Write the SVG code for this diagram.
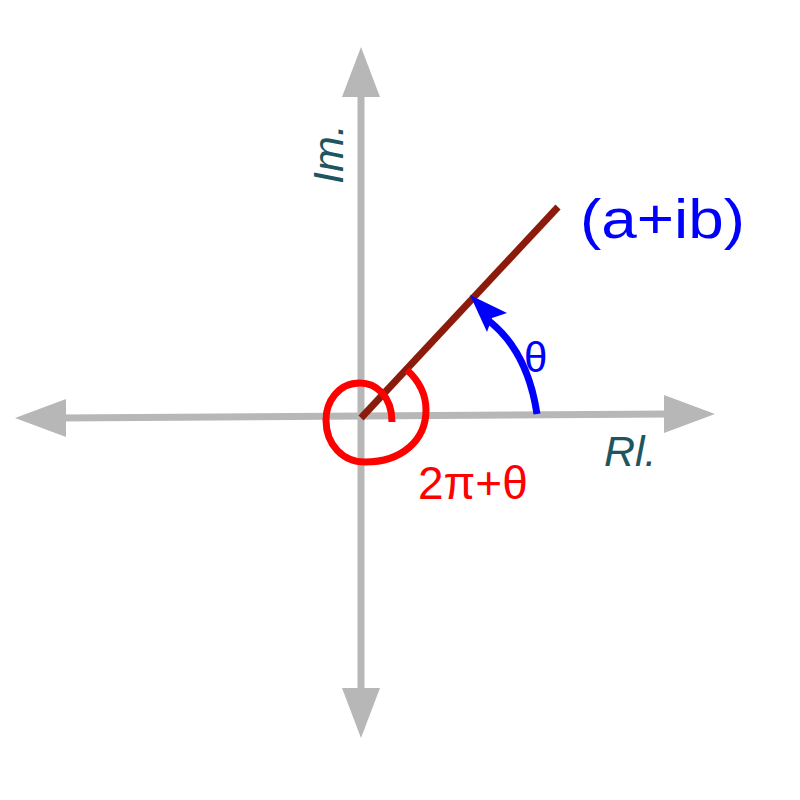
<svg xmlns="http://www.w3.org/2000/svg" width="800" height="800" viewBox="0 0 800 800">
<style>
.ax{stroke:#b7b7b7;stroke-width:7;fill:none}
.ah{fill:#b7b7b7}
.lbl{font-family:"Liberation Sans",Arial,sans-serif}
.axl{font-family:"Liberation Sans",Arial,sans-serif;font-style:italic;fill:#1d5561;font-size:43px}
</style>
<rect width="800" height="800" fill="#fff"/>
<g id="axes">
<line class="ax" x1="361" y1="90" x2="361" y2="695"/>
<polygon class="ah" points="361,47 342,97 380,97"/>
<polygon class="ah" points="361,738 342,688 380,688"/>
<line class="ax" x1="60" y1="418" x2="670" y2="414"/>
<polygon class="ah" points="15,418 66,399 66,437"/>
<polygon class="ah" points="715,414 664,395 664,433"/>
</g>
<g id="connectors">
<line x1="361" y1="418" x2="558" y2="207" stroke="#8b1c0c" stroke-width="7"/>
<path d="M392,422 C392,395 375,383 360,383 C338,383 326,402 326,420 C326,445 343,462 365,462 C402,462 426,440 426,410 C426,393 418,380 407,370" fill="none" stroke="#ff0000" stroke-width="7"/>
<path d="M537,414 Q527,348 485,318" fill="none" stroke="#0000ff" stroke-width="7"/>
<polygon points="470,295 507,313 492,318 487,332" fill="#0000ff"/>
</g>
<g id="labels">
<text class="lbl" x="580" y="238" font-size="56" fill="#0000ff" textLength="165" lengthAdjust="spacingAndGlyphs">(a+ib)</text>
<text class="lbl" x="524" y="372" font-size="42" fill="#0000ff">θ</text>
<text class="lbl" x="418" y="499" font-size="46" fill="#ff0000">2π+θ</text>
<text class="axl" x="604" y="466">Rl.</text>
<text class="axl" transform="translate(343,184) rotate(-90)">Im.</text>
</g>
</svg>
